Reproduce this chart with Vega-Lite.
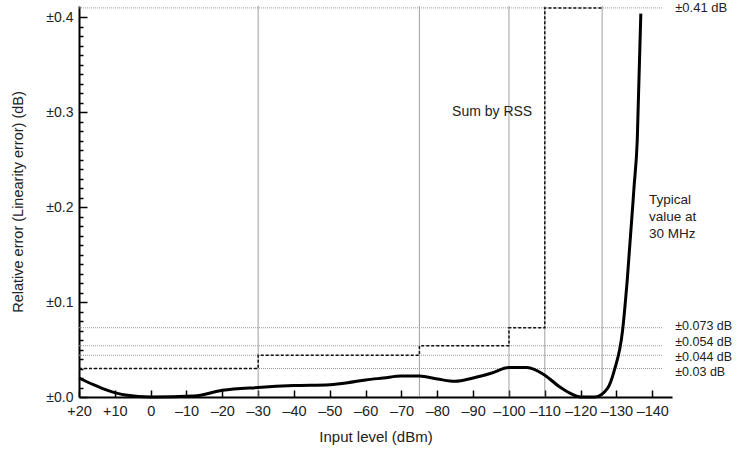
{
  "$schema": "https://vega.github.io/schema/vega-lite/v6.json",
  "width": 593,
  "height": 391,
  "autosize": "none",
  "padding": {"left": 79, "top": 6, "right": 70, "bottom": 56},
  "background": "white",
  "config": {
    "view": {"stroke": null},
    "font": "Liberation Sans",
    "axis": {"grid": false, "labelFlush": false, "labelFont": "Liberation Sans", "titleFont": "Liberation Sans", "labelColor": "#222", "titleColor": "#222", "titleFontWeight": "normal", "labelFontSize": 14, "titleFontSize": 14.5, "domainColor": "#000", "domainWidth": 2, "tickColor": "#000", "tickWidth": 1.5}
  },
  "datasets": {
    "typical": [
      {"level": 20, "error": 0.020},
      {"level": 16, "error": 0.013},
      {"level": 12, "error": 0.007},
      {"level": 7, "error": 0.002},
      {"level": 0, "error": 0.0},
      {"level": -12, "error": 0.001},
      {"level": -20, "error": 0.007},
      {"level": -30, "error": 0.010},
      {"level": -40, "error": 0.012},
      {"level": -50, "error": 0.013},
      {"level": -55, "error": 0.015},
      {"level": -60, "error": 0.018},
      {"level": -65, "error": 0.020},
      {"level": -70, "error": 0.022},
      {"level": -75, "error": 0.022},
      {"level": -80, "error": 0.019},
      {"level": -85, "error": 0.0165},
      {"level": -90, "error": 0.020},
      {"level": -95, "error": 0.025},
      {"level": -100, "error": 0.031},
      {"level": -105, "error": 0.031},
      {"level": -110, "error": 0.023},
      {"level": -114, "error": 0.011},
      {"level": -117, "error": 0.004},
      {"level": -120, "error": 0.0},
      {"level": -124, "error": 0.0},
      {"level": -127.5, "error": 0.009},
      {"level": -129.4, "error": 0.028},
      {"level": -131.7, "error": 0.070},
      {"level": -133, "error": 0.123},
      {"level": -134.9, "error": 0.221},
      {"level": -135.8, "error": 0.27},
      {"level": -136.8, "error": 0.404}
    ],
    "rss": [
      {"seq": 1, "level": 20, "error": 0.03},
      {"seq": 2, "level": -30, "error": 0.044},
      {"seq": 3, "level": -75, "error": 0.054},
      {"seq": 4, "level": -100, "error": 0.073},
      {"seq": 5, "level": -110, "error": 0.41},
      {"seq": 6, "level": -126, "error": 0.41}
    ],
    "levels": [
      {"value": 0.03, "label": "±0.03 dB"},
      {"value": 0.044, "label": "±0.044 dB"},
      {"value": 0.054, "label": "±0.054 dB"},
      {"value": 0.073, "label": "±0.073 dB"},
      {"value": 0.41, "label": "±0.41 dB"}
    ],
    "vlines": [{"level": -30}, {"level": -75}, {"level": -100}, {"level": -110}, {"level": -126}]
  },
  "layer": [
    {
      "data": {"name": "vlines"},
      "mark": {"type": "rule", "color": "#888", "strokeWidth": 0.8},
      "encoding": {
        "x": {
          "field": "level", "type": "quantitative",
          "scale": {"domain": [20, -145.5], "nice": false, "zero": false},
          "axis": {
            "values": [20, 10, 0, -10, -20, -30, -40, -50, -60, -70, -80, -90, -100, -110, -120, -130, -140],
            "tickCount": 100,
            "labelExpr": "datum.value > 0 ? '+' + datum.value : (datum.value < 0 ? '–' + abs(datum.value) : '0')",
            "tickSize": -7,
            "labelPadding": 14,
            "labelOverlap": false,
            "labelFontSize": 14.5,
            "title": "Input level (dBm)",
            "titleFontSize": 15,
            "titlePadding": 12
          }
        }
      }
    },
    {
      "data": {"name": "levels"},
      "mark": {"type": "rule", "color": "#999", "strokeWidth": 1, "strokeDash": [1, 1]},
      "encoding": {
        "y": {
          "field": "value", "type": "quantitative",
          "scale": {"domain": [0, 0.412], "nice": false},
          "axis": {
            "values": [0, 0.01, 0.02, 0.03, 0.04, 0.05, 0.06, 0.07, 0.08, 0.09, 0.1, 0.11, 0.12, 0.13, 0.14, 0.15, 0.16, 0.17, 0.18, 0.19, 0.2, 0.21, 0.22, 0.23, 0.24, 0.25, 0.26, 0.27, 0.28, 0.29, 0.3, 0.31, 0.32, 0.33, 0.34, 0.35, 0.36, 0.37, 0.38, 0.39, 0.4],
            "tickCount": 100,
            "labelExpr": "round(datum.value * 100) % 10 == 0 ? '±' + format(datum.value, '.1f') : ''",
            "tickSize": {"condition": {"test": "round(datum.value * 100) % 10 == 0", "value": -8}, "value": -4},
            "labelPadding": 14,
            "labelOverlap": false,
            "title": "Relative error (Linearity error) (dB)",
            "titlePadding": 20
          }
        },
        "x": {"datum": 20, "type": "quantitative"},
        "x2": {"datum": -143}
      }
    },
    {
      "data": {"name": "rss"},
      "mark": {"type": "line", "interpolate": "step-after", "color": "#111", "strokeWidth": 1.5, "strokeDash": [3, 2]},
      "encoding": {
        "x": {"field": "level", "type": "quantitative"},
        "y": {"field": "error", "type": "quantitative"},
        "order": {"field": "seq"}
      }
    },
    {
      "data": {"name": "typical"},
      "mark": {"type": "line", "interpolate": "monotone", "color": "#000", "strokeWidth": 3},
      "encoding": {
        "x": {"field": "level", "type": "quantitative"},
        "y": {"field": "error", "type": "quantitative"}
      }
    },
    {
      "data": {"name": "levels"},
      "transform": [{"filter": "datum.value == 0.41"}],
      "mark": {"type": "text", "align": "left", "baseline": "middle", "fontSize": 13, "color": "#222"},
      "encoding": {
        "x": {"datum": -146.4, "type": "quantitative"},
        "y": {"field": "value", "type": "quantitative"},
        "text": {"field": "label"}
      }
    },
    {
      "data": {"name": "levels"},
      "transform": [{"filter": "datum.value == 0.073"}],
      "mark": {"type": "text", "align": "left", "baseline": "middle", "fontSize": 12.5, "color": "#222", "dy": -1.5},
      "encoding": {
        "x": {"datum": -146.4, "type": "quantitative"},
        "y": {"field": "value", "type": "quantitative"},
        "text": {"field": "label"}
      }
    },
    {
      "data": {"name": "levels"},
      "transform": [{"filter": "datum.value == 0.054"}],
      "mark": {"type": "text", "align": "left", "baseline": "middle", "fontSize": 12.5, "color": "#222", "dy": -4},
      "encoding": {
        "x": {"datum": -146.4, "type": "quantitative"},
        "y": {"field": "value", "type": "quantitative"},
        "text": {"field": "label"}
      }
    },
    {
      "data": {"name": "levels"},
      "transform": [{"filter": "datum.value == 0.044"}],
      "mark": {"type": "text", "align": "left", "baseline": "middle", "fontSize": 12.5, "color": "#222", "dy": 1.5},
      "encoding": {
        "x": {"datum": -146.4, "type": "quantitative"},
        "y": {"field": "value", "type": "quantitative"},
        "text": {"field": "label"}
      }
    },
    {
      "data": {"name": "levels"},
      "transform": [{"filter": "datum.value == 0.03"}],
      "mark": {"type": "text", "align": "left", "baseline": "middle", "fontSize": 12.5, "color": "#222", "dy": 3},
      "encoding": {
        "x": {"datum": -146.4, "type": "quantitative"},
        "y": {"field": "value", "type": "quantitative"},
        "text": {"field": "label"}
      }
    },
    {
      "data": {"values": [{}]},
      "mark": {"type": "text", "align": "center", "baseline": "middle", "fontSize": 14, "color": "#222", "text": "Sum by RSS"},
      "encoding": {
        "x": {"datum": -95.3, "type": "quantitative"},
        "y": {"datum": 0.3, "type": "quantitative"}
      }
    },
    {
      "data": {"values": [{}]},
      "mark": {"type": "text", "align": "left", "baseline": "middle", "fontSize": 13.5, "lineHeight": 17, "color": "#222", "text": ["Typical", "value at", "30 MHz"]},
      "encoding": {
        "x": {"datum": -139.1, "type": "quantitative"},
        "y": {"datum": 0.208, "type": "quantitative"}
      }
    }
  ]
}
